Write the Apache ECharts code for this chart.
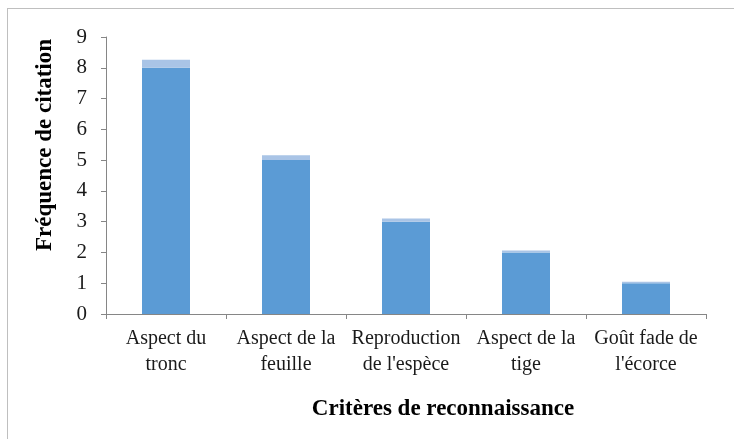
<!DOCTYPE html>
<html>
<head>
<meta charset="utf-8">
<script src="https://cdn.jsdelivr.net/npm/echarts@6/dist/echarts.min.js"></script>
<style>
  html, body { margin: 0; padding: 0; background: #fff; }
  #frame {
    position: absolute; left: 7px; top: 8px; width: 740px; height: 440px;
    border-left: 1px solid #bfbfbf; border-top: 1px solid #bfbfbf;
  }
  #chart { position: absolute; left: 0; top: 0; width: 734px; height: 439px; }
</style>
</head>
<body>
<div id="frame"></div>
<div id="chart"></div>
<script>
// catégories et valeurs
const categories = ['Aspect du\ntronc', 'Aspect de la\nfeuille', 'Reproduction\nde l\'espèce', 'Aspect de la\ntige', 'Goût fade de\nl\'écorce']
const citations = [8, 5, 3, 2, 1]
const caps = [0.26, 0.16, 0.1, 0.06, 0.05]
const yTicks = [0, 1, 2, 3, 4, 5, 6, 7, 8, 9]

const serif = '"Liberation Serif", "DejaVu Serif", serif'
const axisColor = '#868686'

const myChart = echarts.init(document.getElementById('chart'))
const option = {
  animation: false,
  grid: { left: 106, right: 28, top: 37, bottom: 125 },
  xAxis: {
    type: 'category',
    data: categories,
    axisLine: { lineStyle: { color: axisColor } },
    axisTick: { show: true, alignWithLabel: false, length: 5, lineStyle: { color: axisColor } },
    axisLabel: {
      color: '#1a1a1a', fontFamily: serif, fontSize: 20, lineHeight: 26,
      margin: 12, interval: 0
    }
  },
  yAxis: {
    type: 'value',
    min: yTicks[0],
    max: yTicks[yTicks.length - 1],
    interval: 1,
    splitLine: { show: false },
    axisLine: { show: true, lineStyle: { color: axisColor } },
    axisTick: { show: true, length: 5, lineStyle: { color: axisColor } },
    axisLabel: { color: '#1a1a1a', fontFamily: serif, fontSize: 21, margin: 19 }
  },
  graphic: [
    {
      type: 'text',
      x: 45, y: 145,
      rotation: Math.PI / 2,
      style: {
        text: 'Fréquence de citation', font: 'bold 23px ' + serif, fill: '#000',
        textAlign: 'center', textVerticalAlign: 'middle'
      }
    },
    {
      type: 'text',
      x: 443, y: 409,
      style: {
        text: 'Critères de reconnaissance', font: 'bold 23px ' + serif, fill: '#000',
        textAlign: 'center', textVerticalAlign: 'middle'
      }
    }
  ],
  series: [
    {
      name: 'Citations',
      type: 'bar',
      stack: 'total',
      barWidth: '40%',
      itemStyle: { color: '#5b9bd5' },
      data: citations
    },
    {
      name: 'Écart',
      type: 'bar',
      stack: 'total',
      barWidth: '40%',
      itemStyle: { color: '#a9c4e6' },
      data: caps
    }
  ]
}
myChart.setOption(option)
</script>
</body>
</html>
